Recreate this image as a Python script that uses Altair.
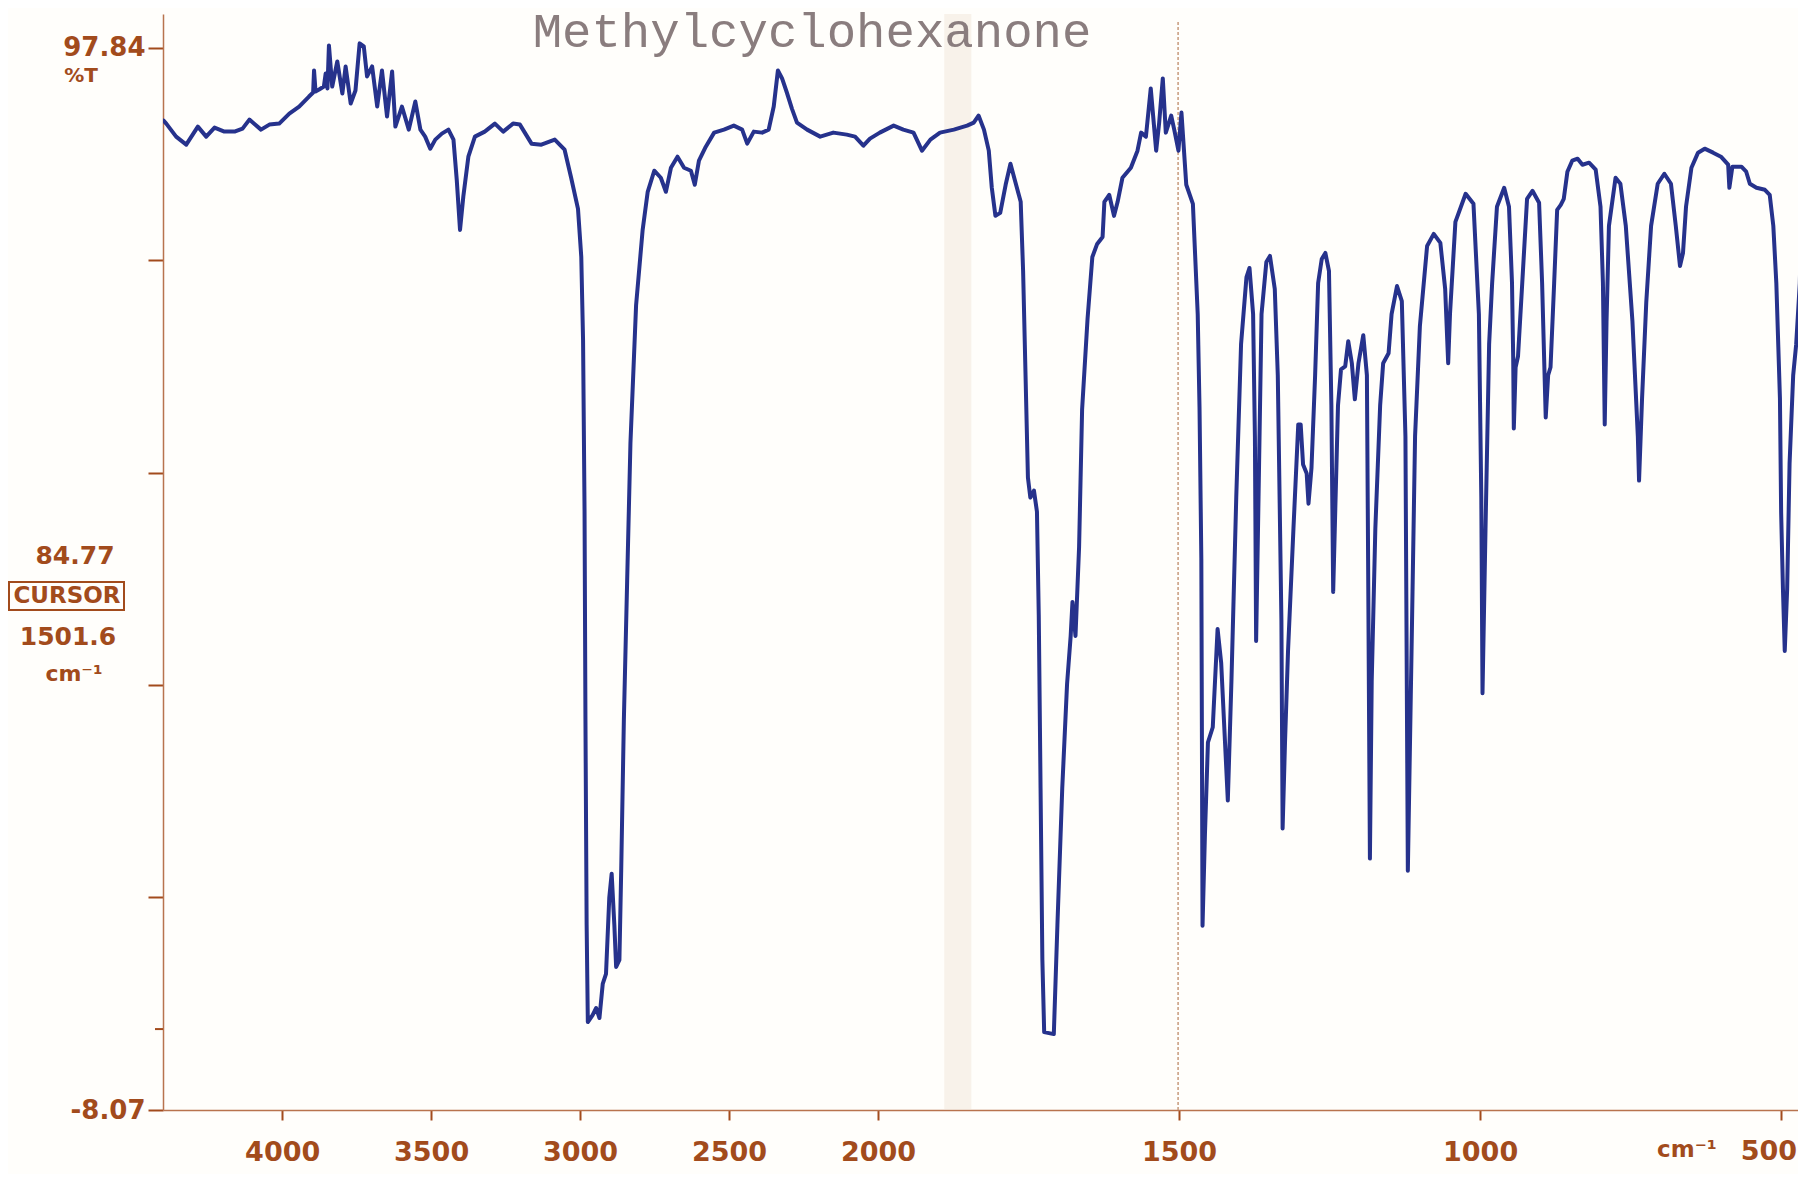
import altair as alt
import pandas as pd

# ---------------- data ----------------
wavenumber = [
    4398, 4389, 4356, 4322, 4283, 4255, 4227, 4194, 4160, 4133, 4110, 4071, 4043, 4010,
    3976, 3943, 3910, 3896, 3893, 3888, 3876, 3860, 3854, 3848, 3843, 3832, 3815, 3798,
    3787, 3770, 3754, 3740, 3726, 3715, 3698, 3681, 3665, 3648, 3631, 3620, 3598, 3575,
    3553, 3536, 3520, 3503, 3486, 3464, 3442, 3425, 3414, 3403, 3392, 3375, 3353, 3320,
    3286, 3258, 3225, 3202, 3163, 3130, 3085, 3052, 3030, 3007, 2996, 2990, 2985, 2982,
    2978, 2974, 2958, 2946, 2935, 2924, 2913, 2902, 2894, 2885, 2879, 2868, 2862, 2853,
    2842, 2831, 2812, 2790, 2773, 2751, 2729, 2712, 2695, 2673, 2651, 2628, 2615, 2601,
    2578, 2550, 2517, 2484, 2456, 2439, 2417, 2389, 2367, 2350, 2336, 2322, 2306, 2289,
    2272, 2238, 2194, 2150, 2105, 2077, 2049, 2027, 1997, 1974, 1958, 1941, 1927, 1913,
    1897, 1874, 1852, 1841, 1833, 1824, 1816, 1811, 1805, 1797, 1788, 1780, 1772, 1763,
    1759, 1755, 1751, 1747, 1741, 1736, 1733, 1730, 1727, 1724, 1708, 1702, 1694, 1686,
    1680, 1677, 1672, 1666, 1661, 1652, 1644, 1636, 1627, 1624, 1616, 1608, 1602, 1594,
    1580, 1569, 1563, 1555, 1547, 1538, 1533, 1527, 1522, 1513, 1508, 1501, 1496, 1488,
    1477, 1469, 1466, 1463, 1461, 1457, 1452, 1444, 1436, 1430, 1419, 1413, 1405, 1397,
    1388, 1383, 1377, 1374, 1372, 1368, 1363, 1355, 1349, 1341, 1336, 1330, 1328, 1324,
    1319, 1310, 1302, 1298, 1294, 1288, 1285, 1280, 1274, 1269, 1263, 1257, 1251, 1247,
    1244, 1240, 1236, 1231, 1224, 1219, 1213, 1208, 1202, 1194, 1188, 1186, 1183, 1180,
    1174, 1166, 1161, 1152, 1147, 1138, 1130, 1124, 1120, 1113, 1108, 1100, 1088, 1077,
    1066, 1058, 1053, 1050, 1041, 1024, 1011, 1002, 998, 996, 991, 985, 980, 972,
    960, 952, 947, 945, 944, 941, 937, 930, 922, 913, 902, 897, 891, 887,
    883, 877, 872, 866, 861, 855, 847, 838, 830, 819, 808, 800, 796, 793,
    790, 786, 775, 767, 758, 747, 738, 736, 731, 724, 716, 705, 694, 683,
    675, 668, 663, 658, 649, 638, 627, 613, 600, 588, 586, 581, 566, 558,
    552, 541, 527, 519, 513, 508, 502, 500, 497, 494, 490, 486, 480, 475,
    469, 466, 462, 458,
]
transmittance = [
    90.6, 90.3, 89.0, 88.2, 90.0, 89.0, 89.9, 89.5, 89.5, 89.8, 90.7, 89.7, 90.2, 90.3,
    91.3, 92.0, 93.0, 93.4, 95.6, 93.5, 93.7, 94.0, 95.3, 93.8, 98.1, 94.0, 96.5, 93.3,
    96.0, 92.3, 93.6, 98.3, 98.0, 95.0, 96.0, 92.0, 95.6, 91.0, 95.5, 90.0, 92.0, 89.7,
    92.5, 89.7, 89.0, 87.8, 88.7, 89.3, 89.7, 88.7, 84.7, 79.7, 83.0, 87.0, 89.0, 89.5,
    90.3, 89.5, 90.3, 90.2, 88.3, 88.2, 88.7, 87.7, 84.9, 81.8, 77.0, 68.7, 51.6, 30.9,
    10.4, 0.7, 1.4, 2.1, 1.1, 4.5, 5.5, 13.1, 15.5, 10.4, 6.2, 6.9, 15.8, 30.9,
    44.7, 58.4, 72.2, 79.7, 83.5, 85.6, 84.9, 83.5, 85.9, 87.0, 85.9, 85.6, 84.2, 86.6,
    88.0, 89.4, 89.7, 90.1, 89.7, 88.3, 89.5, 89.4, 89.7, 92.0, 95.6, 94.8, 93.4, 91.8,
    90.4, 89.7, 89.0, 89.4, 89.2, 89.0, 88.1, 88.8, 89.4, 90.1, 89.7, 89.4, 87.6, 88.7,
    89.4, 89.7, 90.1, 90.4, 91.1, 89.7, 87.6, 83.9, 81.1, 81.4, 84.2, 86.3, 84.5, 82.5,
    75.6, 65.3, 55.0, 53.0, 53.7, 51.6, 41.3, 24.0, 6.9, -0.3, -0.5, 10.4, 24.0, 34.4,
    39.2, 42.6, 39.2, 48.1, 61.8, 70.8, 77.0, 78.3, 79.0, 82.5, 83.2, 81.1, 82.5, 84.9,
    85.9, 87.6, 89.4, 89.0, 93.8, 87.6, 90.4, 94.8, 89.4, 91.1, 89.7, 87.6, 91.4, 84.2,
    82.3, 71.3, 62.0, 46.9, 10.3, 19.4, 28.6, 30.1, 39.9, 36.5, 22.8, 34.7, 53.0, 68.3,
    75.0, 75.9, 71.3, 59.1, 38.7, 53.0, 71.3, 76.5, 77.1, 73.8, 65.2, 40.8, 20.0, 28.6,
    37.7, 49.9, 60.3, 60.3, 56.3, 55.4, 52.4, 56.0, 65.2, 74.4, 76.8, 77.4, 75.6, 62.2,
    43.6, 53.0, 62.2, 65.8, 66.1, 68.6, 66.4, 62.8, 66.4, 69.2, 65.2, 46.9, 17.0, 34.7,
    49.9, 62.2, 66.4, 67.4, 71.3, 74.1, 72.6, 59.1, 15.8, 40.8, 59.1, 70.1, 78.1, 79.3,
    78.4, 73.8, 66.4, 71.3, 80.5, 83.3, 82.3, 71.3, 53.0, 33.5, 49.9, 68.3, 74.4, 82.0,
    83.9, 82.0, 74.4, 66.8, 59.9, 66.0, 67.1, 74.4, 82.8, 83.6, 82.4, 74.4, 61.0, 65.2,
    66.0, 74.4, 81.7, 82.2, 82.8, 85.5, 86.6, 86.8, 86.2, 86.4, 85.7, 82.0, 74.4, 60.3,
    70.6, 80.1, 84.9, 84.3, 80.1, 70.6, 59.1, 54.7, 62.9, 72.5, 80.1, 84.3, 85.3, 84.3,
    80.1, 76.1, 77.4, 82.0, 85.9, 87.4, 87.8, 87.4, 87.0, 86.2, 83.9, 86.0, 86.0, 85.5,
    84.3, 83.9, 83.7, 83.2, 80.1, 74.4, 62.9, 51.5, 43.9, 37.7, 43.9, 56.4, 65.2, 68.3,
    74.4, 82.0, 80.0, 60.0,
]

x_tick_values = [4000, 3500, 3000, 2500, 2000, 1500, 1000, 500]
edge_tick_label = "500"
y_tick_values = [97.84, 76.66, 55.48, 34.31, 13.13, -8.07]
x_domain = [4400, 2000, 472]
y_domain = [-8.07, 101.23]
cursor_wn = [1501.6]
fold_band = {"wn": [1890], "wn2": [1845]}
zero_tick = [0]
title_text = "Methylcyclohexanone"
cursor_value = "84.77"
cursor_label = "CURSOR"
cursor_position = "1501.6"
unit_label = "cm⁻¹"
y_unit_label = "%T"

# ---------------- layout / style ----------------
W, H = 1635, 1096
BROWN = "#a24b1c"
AXIS = "#b8734e"
INK = "#26328c"
TICK, LPAD, XFS = 10, 19, 27

xscale = alt.Scale(domain=x_domain, range=[0, 715, W], nice=False, zero=False)
yscale = alt.Scale(domain=y_domain, nice=False, zero=False)

x_axis = alt.Axis(values=x_tick_values, title=None, grid=False,
                  labelExpr="datum.value == 500 ? '' : format(datum.value, 'd')",
                  tickSize=TICK, tickWidth=2, tickColor=BROWN, domainColor=AXIS,
                  domainWidth=1.5, labelPadding=LPAD, labelFont="DejaVu Sans",
                  labelFontWeight="bold", labelFontSize=XFS, labelColor=BROWN,
                  labelFlush=False)
y_axis = alt.Axis(values=y_tick_values, title=None, grid=False,
                  labelExpr="(datum.value > 97 || datum.value < -8) ? replace(format(datum.value, '.2f'), '\u2212', '-') : ''",
                  tickSize=15, tickWidth=2, tickColor=BROWN, domainColor=AXIS,
                  domainWidth=1.5, labelPadding=3, labelFont="DejaVu Sans",
                  labelFontWeight="bold", labelFontSize=26, labelColor=BROWN,
                  labelFlush=False)

x_enc = alt.X("wn:Q", scale=xscale, axis=x_axis)
y_enc = alt.Y("T:Q", scale=yscale, axis=y_axis)

spec_df = pd.DataFrame({"wn": wavenumber, "T": transmittance})
one = pd.DataFrame({"k": [0]})

band = alt.Chart(pd.DataFrame(fold_band)).mark_rect(color="#ecdccb", opacity=0.35).encode(
    x=x_enc, x2="wn2:Q", y=alt.value(0), y2=alt.value(H))

cursor = alt.Chart(pd.DataFrame({"wn": cursor_wn})).mark_rule(
    color="#c79a7c", strokeWidth=1.5, strokeDash=[3, 2]).encode(
    x=x_enc, y=alt.value(8), y2=alt.value(H))

ztick = alt.Chart(pd.DataFrame({"T": zero_tick})).mark_rule(color=BROWN, strokeWidth=2).encode(
    y=y_enc, x=alt.value(-8), x2=alt.value(0))

line = alt.Chart(spec_df).mark_line(color=INK, strokeWidth=4, clip=True,
                                    strokeJoin="round", strokeCap="round").encode(
    x=x_enc, y=y_enc, order=alt.Order("wn:Q", sort="descending"))


def label(text, x, y, size=25, font="DejaVu Sans", weight="bold", color=BROWN,
          align="center", baseline="middle"):
    return alt.Chart(one).mark_text(font=font, fontSize=size, fontWeight=weight,
                                    color=color, align=align, baseline=baseline).encode(
        x=alt.value(x), y=alt.value(y), text=alt.value(text))


title = label(title_text, 649, 33, size=49, font="Liberation Mono", weight="normal",
              color="#8a7d7e", baseline="alphabetic")
t_pct = label(y_unit_label, -82, 62, size=20)
t_val = label(cursor_value, -88, 542, size=25)
t_cur = label(cursor_label, -96, 582, size=23)
t_pos = label(cursor_position, -95, 623, size=25)
t_cm = label(unit_label, -89, 660, size=22)
t_cm2 = label(unit_label, 1524, H + TICK + LPAD, size=23, baseline="top")
t_500 = label(edge_tick_label, W - 1, H + TICK + LPAD, size=XFS, align="right", baseline="top")

box = alt.Chart(one).mark_rect(fillOpacity=0, stroke=BROWN, strokeWidth=2).encode(
    x=alt.value(-154), x2=alt.value(-39), y=alt.value(568), y2=alt.value(596))

chart = alt.layer(band, cursor, line, ztick, title, t_pct, t_val, box, t_cur, t_pos,
                  t_cm, t_cm2, t_500).properties(
    width=W, height=H,
    autosize=alt.AutoSizeParams(type="none"),
    padding={"left": 155, "top": 6, "right": 0, "bottom": 64},
    background="#fffefb",
).configure_view(strokeWidth=0)

chart.save("out.html", embed_options={"renderer": "svg", "actions": False})
